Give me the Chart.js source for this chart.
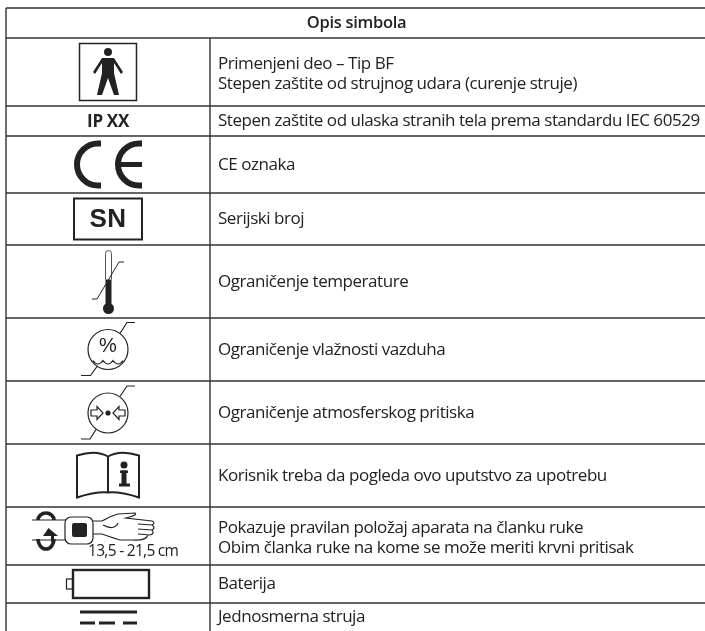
<!DOCTYPE html>
<html>
<head>
<meta charset="utf-8">
<title>Opis simbola</title>
<script src="https://cdn.jsdelivr.net/npm/chart.js@4"></script>
<style>
  html, body { margin: 0; padding: 0; background: #fff; }
  canvas { display: block; }
</style>
</head>
<body>
<canvas id="symbolTable" width="705" height="631"></canvas>
<script>
// Table contents
const tableTitle = 'Opis simbola';
const rowEdges = [8, 38, 106, 136, 193, 245, 318, 381, 444, 507, 565, 603];
const rowSymbols = ['bodyFloat', 'ipCode', 'ceMark', 'serial', 'temperature', 'humidity', 'pressure', 'manual', 'wrist', 'battery', 'directCurrent'];
const rowTexts = [
    ['Primenjeni deo – Tip BF', 'Stepen zaštite od strujnog udara (curenje struje)'],
    ['Stepen zaštite od ulaska stranih tela prema standardu IEC 60529'],
    ['CE oznaka'],
    ['Serijski broj'],
    ['Ograničenje temperature'],
    ['Ograničenje vlažnosti vazduha'],
    ['Ograničenje atmosferskog pritiska'],
    ['Korisnik treba da pogleda ovo uputstvo za upotrebu'],
    ['Pokazuje pravilan položaj aparata na članku ruke', 'Obim članka ruke na kome se može meriti krvni pritisak'],
    ['Baterija'],
    ['Jednosmerna struja']
];
const wristRange = '13,5 - 21,5 cm';

const tableLeft = 6;
const tableMiddle = 210;
const tableRight = 705;
const tableBottom = 631;
const symbolColumn = 108;
const textColumn = 218;
const ink = '#222222';
const ruleColor = '#333333';
const textFont = '"Open Sans"';

function polyline(ctx, points, close) {
    ctx.beginPath();
    points.forEach((p, i) => i ? ctx.lineTo(p[0], p[1]) : ctx.moveTo(p[0], p[1]));
    if (close) ctx.closePath();
}

function tails(ctx, a, b, c, d, e, f) {
    polyline(ctx, [a, b, c]);
    ctx.stroke();
    polyline(ctx, [d, e, f]);
    ctx.stroke();
}

// Each symbol draws around (0,0), the centre of its cell
const symbols = {
    bodyFloat(ctx) {
        ctx.lineWidth = 1.5;
        ctx.strokeRect(-28.5, -28.5, 57, 57);
        ctx.beginPath();
        ctx.arc(0, -20, 4, 0, Math.PI * 2);
        ctx.fill();
        polyline(ctx, [[-6, -14], [-15, 0], [-13, 2], [-6, -9], [-6, 1], [-11, 23], [-6, 23], [0, 6], [6, 23], [11, 23], [6, 1], [6, -9], [13, 2], [15, 0], [6, -14]], true);
        ctx.fill();
    },
    ipCode(ctx) {
        ctx.font = 'bold 17px ' + textFont;
        ctx.textAlign = 'center';
        ctx.textBaseline = 'middle';
        ctx.letterSpacing = '-0.3px';
        ctx.fillText('IP XX', 0, 1);
    },
    ceMark(ctx) {
        ctx.lineWidth = 6;
        [-10, 31].forEach(c => {
            ctx.beginPath();
            ctx.moveTo(c + 3, -21);
            ctx.lineTo(c, -21);
            ctx.arc(c, 0, 21, -Math.PI / 2, Math.PI / 2, true);
            ctx.lineTo(c + 3, 21);
            ctx.stroke();
        });
        ctx.fillRect(11, -2.5, 23, 5);
    },
    serial(ctx) {
        ctx.lineWidth = 2;
        ctx.strokeRect(-34, -20.5, 68, 41);
        ctx.font = 'bold 26px "Liberation Sans"';
        ctx.textAlign = 'center';
        ctx.textBaseline = 'middle';
        ctx.letterSpacing = '0.5px';
        ctx.fillText('SN', 0, 1);
    },
    temperature(ctx) {
        ctx.lineWidth = 1;
        ctx.strokeStyle = '#555555';
        ctx.beginPath();
        ctx.moveTo(-2.5, -2);
        ctx.lineTo(-2.5, -28);
        ctx.arc(0.5, -28, 3, Math.PI, 0);
        ctx.lineTo(3.5, -2);
        ctx.stroke();
        ctx.fillRect(-2.5, -2, 6, 26);
        ctx.beginPath();
        ctx.arc(0.5, 27, 5.5, 0, Math.PI * 2);
        ctx.fill();
        ctx.strokeStyle = ink;
        polyline(ctx, [[-16, 17.5], [-11, 17.5], [11, -19.5], [16, -19.5]]);
        ctx.stroke();
    },
    humidity(ctx) {
        ctx.lineWidth = 1.2;
        ctx.beginPath();
        ctx.arc(0, 0, 20, 0, Math.PI * 2);
        ctx.stroke();
        tails(ctx, [12, -16], [19, -27], [27, -27], [-11, 17], [-17.5, 26], [-27, 26]);
        ctx.beginPath();
        ctx.moveTo(-15, 11);
        ctx.quadraticCurveTo(-10, 18, -5, 11);
        ctx.quadraticCurveTo(0, 18, 5, 11);
        ctx.quadraticCurveTo(10, 18, 15, 11);
        ctx.stroke();
        ctx.font = '20px "Liberation Sans"';
        ctx.textAlign = 'center';
        ctx.textBaseline = 'middle';
        ctx.fillText('%', 0, -3);
    },
    pressure(ctx) {
        ctx.lineWidth = 1.2;
        ctx.beginPath();
        ctx.arc(0, 0.5, 20, 0, Math.PI * 2);
        ctx.stroke();
        tails(ctx, [12, -16], [19, -26.5], [27, -26.5], [-12, 17], [-18, 26.5], [-27, 26.5]);
        ctx.beginPath();
        ctx.arc(0, 0.5, 2.6, 0, Math.PI * 2);
        ctx.fill();
        [1, -1].forEach(s => {
            polyline(ctx, [[s * -17, -2.5], [s * -11, -2.5], [s * -11, -6], [s * -5, 0.5], [s * -11, 7], [s * -11, 3.5], [s * -17, 3.5]], true);
            ctx.stroke();
        });
    },
    manual(ctx) {
        ctx.lineWidth = 2;
        ctx.beginPath();
        ctx.moveTo(0, -19);
        ctx.quadraticCurveTo(-12, -26, -31, -20);
        ctx.lineTo(-31, 22);
        ctx.quadraticCurveTo(-12, 16, 0, 17);
        ctx.quadraticCurveTo(12, 16, 31, 22);
        ctx.lineTo(31, -20);
        ctx.quadraticCurveTo(12, -26, 0, -19);
        ctx.lineTo(0, 17);
        ctx.stroke();
        ctx.beginPath();
        ctx.arc(16, -10.5, 3.5, 0, Math.PI * 2);
        ctx.fill();
        ctx.fillRect(12, -5, 8, 2.5);
        ctx.fillRect(13.5, -5, 5, 15);
        ctx.fillRect(11, 8, 11, 3);
    },
    wrist(ctx) {
        // straps
        ctx.lineWidth = 1;
        polyline(ctx, [[-76, -16], [-42, -16]]);
        ctx.stroke();
        polyline(ctx, [[-76, 4], [-42, 4]]);
        ctx.stroke();
        // rotation arrows
        ctx.lineWidth = 3.6;
        ctx.beginPath();
        ctx.ellipse(-62, -16, 8, 7, 0, Math.PI, 0);
        ctx.stroke();
        ctx.beginPath();
        ctx.ellipse(-62, 3, 8, 10, 0, 0, Math.PI);
        ctx.stroke();
        polyline(ctx, [[-59.5, -8], [-50, 0], [-54, 0], [-54, 6], [-57, 6], [-57, 0], [-65, 0]], true);
        ctx.fill();
        // cuff
        ctx.lineWidth = 1.2;
        ctx.beginPath();
        ctx.roundRect(-43, -19, 28, 27, 6);
        ctx.stroke();
        ctx.beginPath();
        ctx.roundRect(-36, -13, 15, 14, 2);
        ctx.fill();
        // hand
        ctx.beginPath();
        ctx.moveTo(-15, -15);
        ctx.lineTo(-6, -15);
        ctx.quadraticCurveTo(2, -20, 10, -22);
        ctx.lineTo(27, -23);
        ctx.quadraticCurveTo(30, -21, 18, -18);
        ctx.lineTo(44, -15);
        ctx.quadraticCurveTo(48, -13, 44, -11);
        ctx.lineTo(30, -12);
        ctx.moveTo(44, -11);
        ctx.quadraticCurveTo(48, -8, 44, -6);
        ctx.lineTo(30, -7);
        ctx.moveTo(44, -6);
        ctx.quadraticCurveTo(47, -2, 42, -1);
        ctx.lineTo(30, -2);
        ctx.moveTo(40, -1);
        ctx.quadraticCurveTo(38, 5, 24, 4);
        ctx.lineTo(12, 4);
        ctx.quadraticCurveTo(2, 1, -6, -2);
        ctx.lineTo(-15, -2);
        ctx.moveTo(-5, -11);
        ctx.quadraticCurveTo(6, -5, 10, -13);
        ctx.stroke();
        ctx.font = '15.5px ' + textFont;
        ctx.letterSpacing = '-0.7px';
        ctx.textBaseline = 'alphabetic';
        ctx.fillText(wristRange, -20, 20);
    },
    battery(ctx) {
        ctx.lineWidth = 2.4;
        ctx.strokeRect(-35, -14, 76, 28);
        ctx.lineWidth = 1.2;
        ctx.strokeRect(-41.5, -5, 6, 10);
    },
    directCurrent(ctx) {
        ctx.fillRect(-28, -6.5, 57, 3);
        ctx.fillRect(-28, 4.5, 15, 3);
        ctx.fillRect(-9, 4.5, 16, 3);
        ctx.fillRect(15, 4.5, 14, 3);
    }
};

const tablePlugin = {
    id: 'tablePlugin',
    afterDatasetsDraw(chart) {
        const { ctx, scales } = chart;
        const x = scales.x;
        const y = scales.y;

        ctx.save();
        ctx.fillStyle = ink;
        ctx.font = '600 16.5px ' + textFont;
        ctx.letterSpacing = '-0.3px';
        ctx.textAlign = 'center';
        ctx.textBaseline = 'middle';
        ctx.fillText(tableTitle, x.getPixelForValue((tableLeft + tableRight) / 2 + 1), y.getPixelForValue((rowEdges[0] + rowEdges[1]) / 2));
        ctx.restore();

        rowSymbols.forEach((name, i) => {
            const top = rowEdges[i + 1];
            const bottom = i + 2 < rowEdges.length ? rowEdges[i + 2] : tableBottom;
            const mid = (top + bottom) / 2;

            ctx.save();
            ctx.translate(x.getPixelForValue(symbolColumn), y.getPixelForValue(mid));
            ctx.fillStyle = ink;
            ctx.strokeStyle = ink;
            symbols[name](ctx);
            ctx.restore();

            ctx.save();
            ctx.fillStyle = ink;
            ctx.font = '17px ' + textFont;
            ctx.letterSpacing = '-0.45px';
            ctx.textAlign = 'left';
            ctx.textBaseline = 'middle';
            const lines = rowTexts[i];
            // two-line cells sit a little below the cell centre
            const drop = lines.length > 1 ? 2 : 0.5;
            lines.forEach((line, j) => {
                const offset = (j - (lines.length - 1) / 2) * 20.5;
                ctx.fillText(line, x.getPixelForValue(textColumn), y.getPixelForValue(mid + offset + drop));
            });
            ctx.restore();
        });
    }
};

// Rules of the table, as plain line datasets on the two scales
function rule(x0, y0, x1, y1) {
    return {
        data: [{ x: x0, y: y0 }, { x: x1, y: y1 }],
        showLine: true,
        borderColor: ruleColor,
        borderWidth: 1.4,
        pointRadius: 0
    };
}

const datasets = rowEdges.map(edge => rule(tableLeft, edge, tableRight, edge));
datasets.push(rule(tableLeft, rowEdges[0], tableLeft, tableBottom));
datasets.push(rule(tableMiddle, rowEdges[1], tableMiddle, tableBottom));

new Chart(document.getElementById('symbolTable'), {
    type: 'scatter',
    data: { datasets: datasets },
    options: {
        responsive: false,
        animation: false,
        devicePixelRatio: 1,
        layout: { padding: 0 },
        plugins: {
            legend: { display: false },
            tooltip: { enabled: false }
        },
        scales: {
            x: { type: 'linear', display: false, min: 0, max: 705 },
            y: { type: 'linear', display: false, min: 0, max: 631, reverse: true }
        }
    },
    plugins: [tablePlugin]
});
</script>
</body>
</html>
